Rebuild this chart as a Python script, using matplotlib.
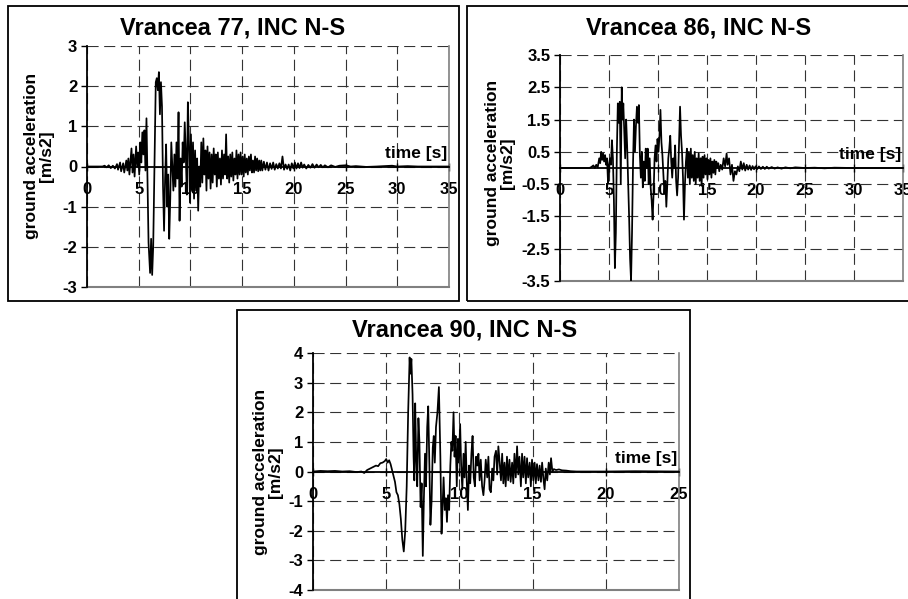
import matplotlib
matplotlib.use("Agg")
import matplotlib.pyplot as plt
from matplotlib.patches import Rectangle

plt.rcParams['font.family'] = ['Liberation Sans', 'DejaVu Sans']
plt.rcParams['font.weight'] = 'bold'

# ---------------- data (time [s], acceleration [m/s2]) ----------------
vr77 = [(0,0),(1.5,0),(1.7,0.02),(1.9,-0.02),(2.1,0.03),(2.3,-0.04),(2.5,0.02),(2.7,-0.05),(2.9,0.06),
        (3.0,-0.08),(3.2,0.1),(3.3,-0.12),(3.5,0.08),(3.6,-0.15),(3.8,0.15),(3.9,-0.1),(4.0,0.2),(4.1,-0.2),
        (4.3,0.45),(4.4,-0.15),(4.5,0.3),(4.6,-0.25),(4.75,0.5),(4.85,0.0),(4.95,0.35),(5.05,-0.2),(5.15,0.6),
        (5.25,0.1),(5.35,0.85),(5.45,0.3),(5.55,0.9),(5.65,-0.1),(5.75,1.2),(5.85,-0.3),(5.95,-1.9),(6.1,-2.65),
        (6.2,-1.8),(6.3,-2.7),(6.4,-2.0),(6.55,0.5),(6.65,2.1),(6.75,2.2),(6.85,1.9),(6.95,2.35),(7.05,1.3),
        (7.15,2.1),(7.25,1.5),(7.35,-0.5),(7.45,-1.6),(7.55,-0.3),(7.65,0.55),(7.75,-1.0),(7.85,-0.2),(7.95,-1.8),
        (8.05,-0.8),(8.15,0.6),(8.25,0.0),(8.35,-0.6),(8.45,0.3),(8.55,-0.5),(8.65,0.6),(8.75,-0.3),(8.85,1.35),
        (8.95,-1.35),(9.05,0.2),(9.15,-0.5),(9.25,0.6),(9.35,0.1),(9.45,1.1),(9.55,0.3),(9.65,-0.7),(9.75,1.6),
        (9.85,0.7),(9.95,-0.9),(10.05,0.8),(10.15,-0.5),(10.25,0.6),(10.35,-0.8),(10.45,0.4),(10.55,-0.6),
        (10.65,0.2),(10.75,-1.1),(10.85,0.0),(10.95,-0.5),(11.05,0.6),(11.15,-0.4),(11.25,0.7),(11.35,-0.2),
        (11.45,0.4),(11.55,-0.6),(11.65,0.5),(11.75,-0.3),(11.85,0.35),(11.95,-0.55),(12.05,0.3),(12.15,-0.4),
        (12.25,0.45),(12.35,-0.2),(12.45,0.3),(12.55,-0.5),(12.65,0.35),(12.75,-0.3),(12.85,0.2),(12.95,-0.45),
        (13.05,0.4),(13.15,-0.3),(13.25,0.3),(13.35,-0.2),(13.45,0.8),(13.55,-0.3),(13.65,0.25),(13.75,-0.4),
        (13.85,0.3),(13.95,-0.25),(14.05,0.35),(14.15,-0.35),(14.25,0.2),(14.35,-0.2),(14.45,0.4),(14.55,-0.3),
        (14.65,0.3),(14.75,-0.2),(14.85,0.35),(14.95,-0.2),(15.05,0.25),(15.15,-0.25),(15.25,0.3),(15.35,-0.15),
        (15.45,0.2),(15.55,-0.2),(15.65,0.25),(15.75,-0.1),(15.85,0.3),(15.95,-0.15),(16.05,0.15),(16.15,-0.15),
        (16.25,0.25),(16.35,-0.1),(16.45,0.2),(16.55,-0.12),(16.65,0.15),(16.75,-0.1),(16.85,0.15),(16.95,-0.1),
        (17.1,0.12),(17.25,-0.08),(17.4,0.1),(17.55,-0.1),(17.7,0.08),(17.85,-0.06),(18.0,0.1),(18.15,-0.08),
        (18.3,0.06),(18.45,-0.05),(18.6,0.08),(18.75,-0.05),(18.9,0.25),(19.05,-0.08),(19.2,0.05),(19.35,-0.06),
        (19.5,0.05),(19.65,-0.1),(19.8,0.08),(19.95,-0.05),(20.1,0.1),(20.25,-0.05),(20.4,0.08),(20.55,-0.04),
        (20.7,0.1),(20.85,-0.03),(21.0,0.05),(21.2,-0.05),(21.4,0.04),(21.6,-0.03),(21.8,0.06),(22.0,-0.03),
        (22.2,0.05),(22.4,-0.02),(22.6,0.04),(22.8,-0.02),(23.0,0.03),(23.3,-0.02),(23.6,0.03),(24.0,-0.01),
        (24.4,0.02),(25.0,0.03),(25.5,0.0),(26,0.01),(27,-0.01),(28,0.0),(29.5,0.02),(30,0.0),(31,0.01),
        (32,0.0),(33,0.0),(35,0.0)]

vr86 = [(0,0),(3.0,0.0),(3.2,0.03),(3.4,0.08),(3.55,0.0),(3.7,0.1),(3.85,0.02),(4.0,0.3),(4.1,0.15),(4.2,0.5),
        (4.3,0.25),(4.4,0.45),(4.5,0.2),(4.6,0.4),(4.7,0.1),(4.8,0.3),(4.9,-0.45),(5.0,0.1),(5.1,0.3),(5.2,0.1),
        (5.3,0.86),(5.4,0.3),(5.5,-1.0),(5.6,-3.1),(5.7,-2.0),(5.8,0.5),(5.9,2.0),(6.0,1.4),(6.1,2.05),(6.2,-0.5),
        (6.3,2.5),(6.38,1.5),(6.46,2.0),(6.55,1.2),(6.65,0.3),(6.75,1.5),(6.85,0.7),(6.95,-0.4),(7.05,-1.5),
        (7.15,-2.8),(7.25,-3.5),(7.35,-2.0),(7.45,0.1),(7.55,1.5),(7.65,0.5),(7.75,1.3),(7.85,1.9),(7.95,1.4),
        (8.05,1.95),(8.15,0.4),(8.25,-0.3),(8.35,0.5),(8.45,-0.6),(8.55,0.2),(8.65,-0.4),(8.75,0.6),(8.85,0.0),
        (8.95,0.6),(9.05,-0.5),(9.15,0.3),(9.25,-0.6),(9.35,-1.0),(9.45,-1.6),(9.55,-0.8),(9.65,0.3),(9.75,0.7),
        (9.85,0.2),(9.95,0.9),(10.05,0.5),(10.15,1.0),(10.25,1.8),(10.35,0.8),(10.45,0.4),(10.55,-0.2),
        (10.65,-0.8),(10.75,-0.4),(10.85,-1.2),(10.95,-0.5),(11.05,0.3),(11.15,0.6),(11.25,1.0),(11.35,0.2),
        (11.45,-0.3),(11.55,0.3),(11.65,0.0),(11.75,0.7),(11.85,-0.4),(11.95,-0.85),(12.05,-0.3),(12.15,0.8),
        (12.25,1.9),(12.35,1.0),(12.45,0.5),(12.55,-0.3),(12.65,-1.6),(12.75,-0.5),(12.85,0.2),(12.95,0.6),
        (13.05,-0.3),(13.15,0.5),(13.25,-0.5),(13.35,0.6),(13.45,-0.3),(13.55,0.4),(13.65,-0.4),(13.75,0.5),
        (13.85,-0.5),(13.95,0.3),(14.05,-0.3),(14.15,0.45),(14.25,-0.4),(14.35,0.3),(14.45,-0.55),(14.55,0.35),
        (14.65,-0.3),(14.75,0.4),(14.85,-0.2),(14.95,0.3),(15.05,-0.35),(15.15,0.25),(15.25,-0.2),(15.35,0.3),
        (15.45,-0.3),(15.55,0.2),(15.65,-0.15),(15.75,0.25),(15.85,-0.2),(15.95,0.2),(16.05,0.0),(16.15,0.15),
        (16.25,-0.1),(16.4,0.1),(16.55,-0.05),(16.7,0.3),(16.85,0.05),(17.0,0.45),(17.1,0.1),(17.25,0.3),
        (17.4,-0.2),(17.55,0.1),(17.7,-0.4),(17.85,-0.1),(18.0,-0.2),(18.15,0.05),(18.3,-0.1),(18.45,0.2),
        (18.6,-0.05),(18.75,0.15),(18.9,-0.08),(19.05,0.1),(19.2,-0.05),(19.35,0.08),(19.5,-0.06),(19.65,0.06),
        (19.8,-0.04),(19.95,0.05),(20.1,-0.04),(20.3,0.05),(20.5,-0.03),(20.7,0.04),(20.9,-0.03),(21.1,0.04),
        (21.3,-0.02),(21.6,0.03),(21.9,-0.02),(22.2,0.02),(22.6,-0.02),(23.0,0.02),(23.5,-0.01),(24,0.02),
        (25,0.0),(26,0.01),(27,-0.01),(28,0.01),(30,0.0),(35,0.0)]

vr90 = [(0,0.0),(0.5,0.02),(1.0,0.01),(1.5,0.02),(2.0,0.0),(2.5,0.01),(3.0,-0.02),(3.3,0.0),(3.5,-0.05),
        (3.7,0.05),(3.9,0.1),(4.1,0.15),(4.3,0.2),(4.45,0.18),(4.6,0.28),(4.75,0.3),(4.9,0.35),(5.0,0.42),
        (5.1,0.3),(5.2,0.38),(5.3,0.25),(5.4,0.05),(5.5,-0.15),(5.6,-0.35),(5.7,-0.7),(5.8,-0.8),(5.9,-1.1),
        (6.0,-1.6),(6.1,-2.3),(6.2,-2.7),(6.3,-2.0),(6.4,-0.5),(6.5,2.0),(6.6,3.85),(6.65,3.3),(6.72,3.8),
        (6.8,2.6),(6.87,0.5),(6.92,-0.3),(6.98,2.3),(7.05,0.4),(7.12,-0.5),(7.2,1.8),(7.27,1.0),(7.35,-1.2),
        (7.42,-0.4),(7.5,-2.85),(7.57,-1.0),(7.65,0.6),(7.72,-0.5),(7.8,1.5),(7.87,2.2),(7.95,0.2),(8.02,-1.8),
        (8.1,-1.0),(8.18,0.8),(8.25,1.2),(8.32,0.3),(8.4,1.5),(8.5,2.0),(8.6,2.85),(8.7,0.5),(8.78,-2.1),
        (8.85,-1.2),(8.92,-0.2),(9.0,-1.3),(9.08,-0.9),(9.15,-1.7),(9.22,-0.8),(9.3,-1.3),(9.38,0.2),(9.45,1.0),
        (9.52,0.7),(9.6,2.0),(9.67,0.5),(9.74,1.2),(9.82,-0.5),(9.9,1.1),(9.97,0.3),(10.05,1.6),(10.12,0.2),
        (10.2,-0.6),(10.28,0.6),(10.35,-0.2),(10.43,1.0),(10.5,-0.3),(10.58,-1.3),(10.66,0.2),(10.74,-0.4),
        (10.82,0.6),(10.9,1.2),(10.98,-0.2),(11.06,-0.5),(11.14,0.5),(11.22,0.2),(11.3,0.6),(11.38,-0.3),
        (11.46,0.4),(11.55,-0.5),(11.64,-0.8),(11.72,-0.3),(11.8,0.4),(11.9,-0.2),(11.98,0.5),(12.06,-0.6),
        (12.15,-0.7),(12.24,0.1),(12.32,-0.3),(12.4,0.5),(12.5,0.7),(12.58,-0.1),(12.66,0.85),(12.75,0.3),
        (12.84,-0.3),(12.92,0.6),(13.0,-0.4),(13.08,0.3),(13.16,-0.5),(13.25,0.5),(13.33,-0.3),(13.42,0.4),
        (13.5,-0.35),(13.6,0.3),(13.68,-0.4),(13.76,0.6),(13.85,-0.2),(13.94,0.85),(14.02,-0.1),(14.1,0.5),
        (14.2,-0.5),(14.28,0.6),(14.36,-0.2),(14.45,0.5),(14.54,-0.4),(14.62,0.45),(14.7,-0.2),(14.8,0.3),
        (14.88,-0.5),(14.96,0.4),(15.05,-0.3),(15.14,0.3),(15.22,-0.4),(15.3,0.25),(15.4,-0.3),(15.48,0.2),
        (15.57,-0.35),(15.65,0.3),(15.74,-0.25),(15.82,-0.6),(15.9,0.1),(16.0,-0.3),(16.1,0.3),(16.18,-0.1),
        (16.26,0.45),(16.35,0.0),(16.45,0.08),(16.6,0.05),(16.8,0.07),(17.0,0.04),(17.3,0.03),(17.6,0.01),
        (18.0,0.0),(20,0.0),(22,0.01),(25,0.0)]

titles = ["Vrancea 77, INC N-S", "Vrancea 86, INC N-S", "Vrancea 90, INC N-S"]
xticks_35 = [0, 5, 10, 15, 20, 25, 30, 35]
xticks_25 = [0, 5, 10, 15, 20, 25]
yticks_77 = [-3, -2, -1, 0, 1, 2, 3]
yticks_86 = [-3.5, -2.5, -1.5, -0.5, 0.5, 1.5, 2.5, 3.5]
yticks_90 = [-4, -3, -2, -1, 0, 1, 2, 3, 4]
ylabel_text = "ground acceleration\n[m/s2]"
xlabel_text = "time [s]"

W, H = 908, 599
fig = plt.figure(figsize=(W / 100, H / 100), dpi=100)


def px_rect(x0, y0, x1, y1):
    return [x0 / W, 1 - y1 / H, (x1 - x0) / W, (y1 - y0) / H]


def frame(x0, y0, x1, y1):
    r = Rectangle((x0 / W, 1 - y1 / H), (x1 - x0) / W, (y1 - y0) / H,
                  transform=fig.transFigure, fill=False, ec='black', lw=1.3)
    fig.add_artist(r)


def fmt(v):
    return ("%g" % v)


def panel(rect_px, data, xticks, yticks, title, title_px, ylab_px):
    ax = fig.add_axes(px_rect(*rect_px))
    t = [p[0] for p in data]
    a = [p[1] for p in data]
    ax.plot(t, a, color='black', lw=1.25, zorder=3)
    ax.set_xlim(xticks[0], xticks[-1])
    ax.set_ylim(yticks[0], yticks[-1])
    ax.set_xticks(xticks)
    ax.set_xticklabels([fmt(v) for v in xticks])
    ax.set_yticks(yticks)
    ax.set_yticklabels([fmt(v) for v in yticks])
    ax.grid(True, color='#333333', lw=0.8, ls=(0, (10, 5)), zorder=0)
    ax.set_axisbelow(True)
    ax.spines['bottom'].set_position(('data', 0))
    ax.spines['bottom'].set_color('black')
    ax.spines['bottom'].set_linewidth(1.3)
    ax.spines['left'].set_color('black')
    ax.spines['left'].set_linewidth(1.3)
    ax.spines['top'].set_visible(False)
    ax.spines['right'].set_color('#808080')
    ax.spines['right'].set_linewidth(1.2)
    ax.axhline(yticks[0], color='#808080', lw=1.5, clip_on=False, zorder=2)
    ax.tick_params(axis='x', direction='inout', length=6, width=1, pad=8, labelsize=12)
    ax.tick_params(axis='y', direction='out', length=4, width=1, pad=3, labelsize=12)
    for lb in ax.get_xticklabels() + ax.get_yticklabels():
        lb.set_fontweight('bold')
    ax.annotate(xlabel_text, xy=(xticks[-1], 0), xytext=(-1, 4), textcoords='offset points',
                ha='right', va='bottom', fontsize=12.5, fontweight='bold')
    fig.text(title_px[0] / W, 1 - title_px[1] / H, title, ha='center', va='center',
             fontsize=17, fontweight='bold')
    fig.text(ylab_px[0] / W, 1 - ylab_px[1] / H, ylabel_text, rotation=90, ha='center',
             va='center', multialignment='center', linespacing=1.0,
             fontsize=12.5, fontweight='bold')
    return ax


frame(8, 6, 459, 301)
frame(467, 6, 912, 301)
frame(237, 310, 690, 612)

panel((87, 46, 449, 287), vr77, xticks_35, yticks_77, titles[0], (233, 28), (39, 156))
panel((560, 55, 903, 281), vr86, xticks_35, yticks_86, titles[1], (699, 28), (500, 163))
panel((313, 353, 679, 590), vr90, xticks_25, yticks_90, titles[2], (465, 330), (268, 472))

fig.savefig("out.png", dpi=100)
